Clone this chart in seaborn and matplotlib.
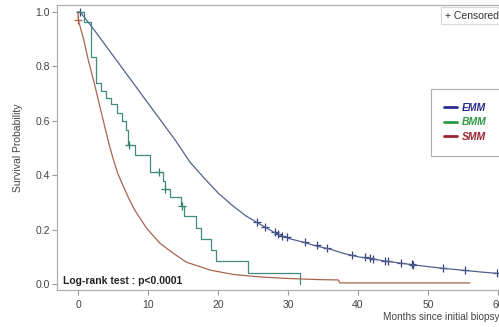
import numpy as np
import pandas as pd
import matplotlib
matplotlib.use('Agg')
import matplotlib.pyplot as plt
from matplotlib.lines import Line2D
import seaborn as sns

# EMM curve (months, survival)
emm_time = [0, 0.3, 2, 4, 6, 8, 10, 12, 14, 16, 18, 20, 22, 24, 26, 28, 30, 32, 34, 36,
            38, 40, 42, 44, 46, 48, 50, 52, 54, 56, 58, 60, 61.3]
emm_surv = [1.0, 1.0, 0.945, 0.875, 0.805, 0.735, 0.665, 0.595, 0.525, 0.448, 0.39, 0.335,
            0.29, 0.25, 0.22, 0.19, 0.168, 0.155, 0.14, 0.128, 0.112, 0.1, 0.092, 0.084,
            0.077, 0.07, 0.064, 0.058, 0.053, 0.048, 0.043, 0.039, 0.037]
emm_cens_time = [0.3, 25.5, 26.7, 28.1, 28.6, 29.1, 29.8, 32.4, 34.1, 35.5, 39.1, 41.0, 41.7,
                 42.2, 43.9, 44.3, 46.2, 47.7, 47.9, 52.2, 55.3, 59.8]
emm_cens_surv = [1.0, 0.229, 0.21, 0.19, 0.184, 0.178, 0.172, 0.155, 0.142, 0.131, 0.108,
                 0.099, 0.096, 0.093, 0.086, 0.084, 0.077, 0.072, 0.071, 0.058, 0.05, 0.039]

# BMM steps (event time, survival after event)
bmm_time = [0, 0.8, 1.9, 2.6, 3.3, 4.0, 4.7, 5.5, 6.3, 6.8, 7.2, 8.2, 10.3, 12.2, 12.4,
            13.1, 14.7, 15.2, 16.9, 17.5, 19.0, 19.7, 24.3, 31.7]
bmm_surv = [1.0, 0.965, 0.835, 0.74, 0.71, 0.685, 0.66, 0.63, 0.60, 0.565, 0.51, 0.475,
            0.41, 0.38, 0.35, 0.32, 0.285, 0.25, 0.205, 0.165, 0.125, 0.083, 0.042, 0.0]
bmm_cens_time = [7.3, 11.5, 12.4, 14.8]
bmm_cens_surv = [0.51, 0.41, 0.35, 0.285]

# SMM curve
smm_time = [0, 0.05, 0.8, 1.5, 2.4, 3.1, 3.9, 4.5, 5.0, 5.7, 6.5, 7.3, 8.1, 9.8, 11.7,
            13.6, 15.5, 17.4, 18.9, 22.2, 25.5, 29.3, 34.6, 37.2, 37.4, 56.0]
smm_surv = [1.0, 0.97, 0.90, 0.82, 0.73, 0.655, 0.57, 0.508, 0.462, 0.405, 0.358, 0.312,
            0.272, 0.205, 0.15, 0.113, 0.08, 0.064, 0.051, 0.035, 0.027, 0.021, 0.016,
            0.015, 0.004, 0.004]
smm_cens_time = [0.05]
smm_cens_surv = [0.97]

groups = ['EMM', 'BMM', 'SMM']
line_colors = {'EMM': '#52628f', 'BMM': '#3f8c7c', 'SMM': '#a8654f'}
mark_colors = {'EMM': '#34447c', 'BMM': '#2f7a66', 'SMM': '#a8654f'}
legend_colors = {'EMM': '#2b2d8c', 'BMM': '#2e9a44', 'SMM': '#9c2232'}

sns.set_theme(style='white')
plt.rcParams['font.family'] = ['Liberation Sans', 'DejaVu Sans']

fig = plt.figure(figsize=(4.99, 3.27), dpi=100)
ax = fig.add_axes([57/499, 37/327, 450/499, 285/327])

sns.lineplot(x=emm_time, y=emm_surv, ax=ax, color=line_colors['EMM'], linewidth=0.9,
             estimator=None, sort=False)
sns.lineplot(x=bmm_time, y=bmm_surv, ax=ax, color=line_colors['BMM'], linewidth=0.9,
             estimator=None, sort=False, drawstyle='steps-post')
sns.lineplot(x=smm_time, y=smm_surv, ax=ax, color=line_colors['SMM'], linewidth=0.9,
             estimator=None, sort=False)

sns.scatterplot(x=emm_cens_time, y=emm_cens_surv, ax=ax, marker='+', s=35,
                color=mark_colors['EMM'], linewidth=0.9)
sns.scatterplot(x=bmm_cens_time, y=bmm_cens_surv, ax=ax, marker='+', s=35,
                color=mark_colors['BMM'], linewidth=0.9)
sns.scatterplot(x=smm_cens_time, y=smm_cens_surv, ax=ax, marker='+', s=30,
                color=mark_colors['SMM'], linewidth=0.9)

ax.set_xlim(-3.0, -3.0 + 450/7)
ax.set_ylim(-6/272, 1 + 7/272)
ax.set_xticks([0, 10, 20, 30, 40, 50, 60])
ax.set_yticks([0.0, 0.2, 0.4, 0.6, 0.8, 1.0])
ax.set_yticklabels(['0.0', '0.2', '0.4', '0.6', '0.8', '1.0'])

for sp in ax.spines.values():
    sp.set_color('#b0b0b0')
    sp.set_linewidth(0.9)

ax.tick_params(axis='both', which='major', labelsize=7.5, labelcolor='#444444',
               color='#999999', length=3.5, width=0.8, left=True, bottom=True)
ax.tick_params(axis='y', pad=1.5)
ax.tick_params(axis='x', pad=4)

ax.set_ylabel('Survival Probability', fontsize=7.5, color='#444444', labelpad=9)
ax.set_xlabel('')
fig.text(383/499, 1 - 317/327, 'Months since initial biopsy', fontsize=7.2,
         color='#444444', ha='left', va='center')

ax.text(0.013, 0.033, 'Log-rank test : p<0.0001', transform=ax.transAxes, fontsize=7.5,
        fontweight='bold', color='#222222', ha='left', va='center')

ax.text(0.862, 0.962, '+ Censored', transform=ax.transAxes, fontsize=7.5,
        color='#333333', ha='left', va='center',
        bbox=dict(boxstyle='square,pad=0.35', facecolor='white', edgecolor='#d8d8d8',
                  linewidth=0.8))

handles = [Line2D([0], [0], color=legend_colors[g], linewidth=2) for g in groups]
leg = ax.legend(handles, groups, loc='upper left', bbox_to_anchor=(0.831, 0.705),
                borderaxespad=0, fontsize=7.5, frameon=True, fancybox=False,
                borderpad=1.3, labelspacing=0.45, handlelength=1.2, handletextpad=0.5)
leg.get_frame().set_edgecolor('#999999')
leg.get_frame().set_linewidth(0.8)
for txt, g in zip(leg.get_texts(), groups):
    txt.set_color(legend_colors[g])
    txt.set_fontweight('bold')
    txt.set_fontstyle('italic')

fig.savefig('out.png', dpi=100)
